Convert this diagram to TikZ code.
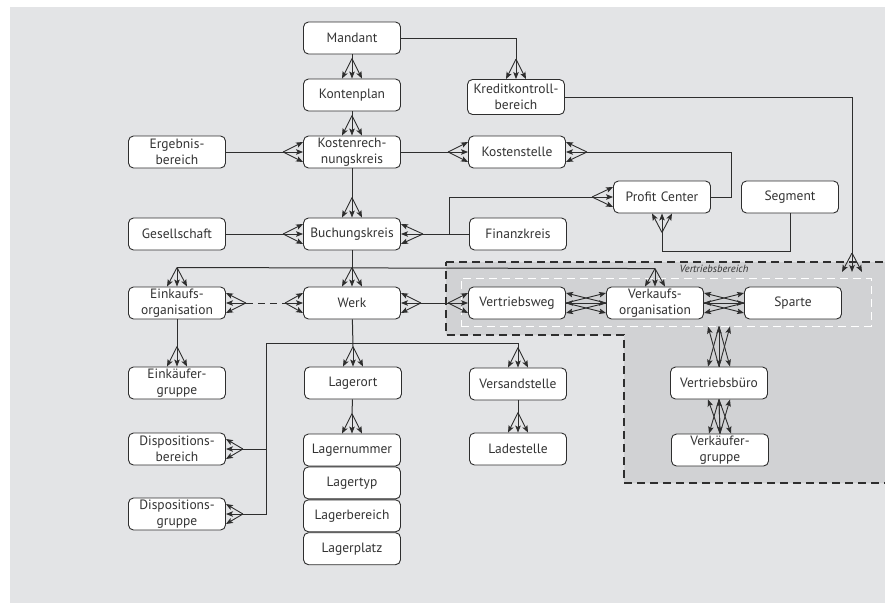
\documentclass[tikz,border=0pt]{standalone}
\usepackage{fontspec}
\setmainfont{PT Sans}
\usetikzlibrary{positioning,calc,arrows.meta}
\definecolor{bggray}{HTML}{E3E4E6}
\definecolor{areagray}{HTML}{D1D2D4}
\definecolor{linegray}{HTML}{2E2E2E}
\definecolor{textgray}{HTML}{333333}
\tikzstyle{orgunit} = [rectangle, rounded corners=5pt, draw=linegray, fill=white, line width=0.9pt, minimum width=97pt, minimum height=32pt, text width=95pt, align=center, inner sep=0pt, text=textgray, font=\fontsize{13.5}{15.5}\selectfont]
\tikzstyle{link} = [draw=linegray, line width=1pt]
\tikzstyle{dashedlink} = [link, dash pattern=on 7pt off 5pt]
\tikzstyle{foot} = [-{Stealth[length=7pt,width=5.5pt,inset=1.5pt]}, draw=linegray, line width=0.9pt]
\tikzstyle{areaframe} = [fill=areagray, draw=linegray, line width=2.2pt, dash pattern=on 8pt off 5pt]
\tikzstyle{innerframe} = [rectangle, draw=white, line width=1pt, dash pattern=on 8pt off 5pt, minimum width=410pt, minimum height=48pt]
% three arrows from one point to a node edge
\newcommand{\crowsfoot}[3]{%
  \draw[foot] (#1) -- ($(#2)-(#3)$);
  \draw[foot] (#1) -- (#2);
  \draw[foot] (#1) -- ($(#2)+(#3)$);}
\newcommand{\footV}[3]{%
  \coordinate (#1-#2) at ($(#1.#2)+(0,#3)$);
  \crowsfoot{#1-#2}{#1.#2}{10,0}}
\newcommand{\footH}[3]{%
  \coordinate (#1-#2) at ($(#1.#2)+(#3,0)$);
  \crowsfoot{#1-#2}{#1.#2}{0,10}}

\begin{document}
\begin{tikzpicture}[x=1pt, y=-1pt]
    \useasboundingbox (0,0) rectangle (885,603);
    \fill[bggray] (10,7) rectangle (885,603);

    % Vertriebsbereich
    \draw[areaframe] (446,262) -- (890,262) -- (890,483) -- (624,483) -- (624,335) -- (446,335) -- cycle;
    \node[innerframe] (vbereich) at (666,302) {};
    \node[font=\fontsize{10.5}{12}\selectfont\itshape, text=textgray] (vblabel) at (714,269) {Vertriebsbereich};

    % Finance
    \node[orgunit] (mandant) at (352,38) {Mandant};
    \node[orgunit] (kontenplan) at (352,95) {Kontenplan};
    \node[orgunit, minimum height=35pt] (kkber) at (516,97) {Kreditkontroll-\\bereich};
    \node[orgunit] (erkrs) at (177,152) {Ergebnis-\\bereich};
    \node[orgunit] (kokrs) at (352,152) {Kostenrech-\\nungskreis};
    \node[orgunit] (kst) at (517,152) {Kostenstelle};
    \node[orgunit] (pc) at (662,197) {Profit Center};
    \node[orgunit] (segment) at (790,197) {Segment};
    \node[orgunit] (gesell) at (177,234) {Gesellschaft};
    \node[orgunit] (bukrs) at (352,234) {Buchungskreis};
    \node[orgunit] (fikrs) at (518,234) {Finanzkreis};

    % Logistics
    \node[orgunit] (ekorg) at (177,303) {Einkaufs-\\organisation};
    \node[orgunit] (werk) at (352,303) {Werk};
    \node[orgunit] (vweg) at (517,303) {Vertriebsweg};
    \node[orgunit] (vkorg) at (655,303) {Verkaufs-\\organisation};
    \node[orgunit] (sparte) at (793,303) {Sparte};
    \node[orgunit] (vbuero) at (719,383) {Vertriebsbüro};
    \node[orgunit] (vkgrp) at (720,450) {Verkäufer-\\gruppe};
    \node[orgunit] (ekgrp) at (177,383) {Einkäufer-\\gruppe};
    \node[orgunit] (lagerort) at (353,383) {Lagerort};
    \node[orgunit] (vstelle) at (518,384) {Versandstelle};
    \node[orgunit] (ladest) at (518,449) {Ladestelle};
    \node[orgunit] (dispbe) at (177,449) {Dispositions-\\bereich};
    \node[orgunit] (dispgr) at (177,514) {Dispositions-\\gruppe};

    % Warehouse
    \node[orgunit] (lnum) at (352,450) {Lagernummer};
    \node[orgunit, below=0pt of lnum] (ltyp) {Lagertyp};
    \node[orgunit, below=0pt of ltyp] (lber) {Lagerbereich};
    \node[orgunit, below=0pt of lber] (lplatz) {Lagerplatz};

    % Feet
    \footV{kontenplan}{north}{-20}
    \footV{kkber}{north}{-20}
    \footV{kokrs}{north}{-20}
    \footH{kokrs}{west}{-20}
    \footH{kst}{west}{-20}
    \footH{kst}{east}{21}
    \footH{pc}{west}{-21}
    \footV{pc}{south}{19}
    \footV{bukrs}{north}{-20}
    \footH{bukrs}{west}{-20}
    \footH{bukrs}{east}{22}
    \footV{ekorg}{north}{-19}
    \footV{werk}{north}{-19}
    \footV{vkorg}{north}{-18}
    \footH{ekorg}{east}{20}
    \footH{werk}{west}{-18}
    \footH{werk}{east}{20}
    \footH{vweg}{west}{-20}
    \footV{ekgrp}{north}{-20}
    \footV{lagerort}{north}{-20}
    \footV{vstelle}{north}{-20}
    \footH{dispbe}{east}{17}
    \footH{dispgr}{east}{17}
    \footV{lnum}{north}{-20}
    \footV{ladest}{north}{-20}
    \coordinate (vb-top) at (852,253);
    \coordinate (vb-in) at (852,272);
    \crowsfoot{vb-top}{vb-in}{10,0}

    % Many to many
    \crowsfoot{vweg.east}{vkorg.west}{0,10}
    \crowsfoot{vkorg.west}{vweg.east}{0,10}
    \crowsfoot{vkorg.east}{sparte.west}{0,10}
    \crowsfoot{sparte.west}{vkorg.east}{0,10}
    \coordinate (vb-s) at (vbereich.south -| vbuero.north);
    \crowsfoot{vb-s}{vbuero.north}{11,0}
    \crowsfoot{vbuero.north}{vb-s}{11,0}
    \crowsfoot{vbuero.south}{vkgrp.north}{11,0}
    \crowsfoot{vkgrp.north}{vbuero.south}{11,0}

    % Lines
    \draw[link] (mandant) -- (kontenplan-north);
    \draw[link] (mandant.east) -| (kkber-north);
    \draw[link] (kkber.east) -| (vb-top);
    \draw[link] (kontenplan) -- (kokrs-north);
    \draw[link] (erkrs) -- (kokrs-west);
    \draw[link] (kokrs) -- (kst-west);
    \draw[link] (kst-east) -| ($(pc.east)+(21,0)$) -- (pc.east);
    \draw[link] (pc-south) -- ++(0,19) -| (segment.south);
    \draw[link] (kokrs) -- (bukrs-north);
    \draw[link] (gesell) -- (bukrs-west);
    \draw[link] (bukrs-east) -- (fikrs.west);
    \coordinate (pcjoin) at (449,234);
    \draw[link] (pcjoin) |- (pc-west);
    \draw[link] (bukrs) -- (werk-north);
    \draw[link] (ekorg-north) -- (vkorg-north);
    \draw[dashedlink] (ekorg-east) -- (werk-west);
    \draw[link] (werk-east) -- (vweg-west);
    \draw[link] (ekorg) -- (ekgrp-north);
    \draw[link] (werk) -- (lagerort-north);
    \coordinate (lagerjoin) at (266,343);
    \draw[link] (vstelle-north) |- (lagerjoin) |- (dispgr-east);
    \draw[link] (dispbe-east) -- (dispbe-east -| lagerjoin);
    \draw[link] (lagerort) -- (lnum-north);
    \draw[link] (vstelle) -- (ladest-north);
\end{tikzpicture}
\end{document}
